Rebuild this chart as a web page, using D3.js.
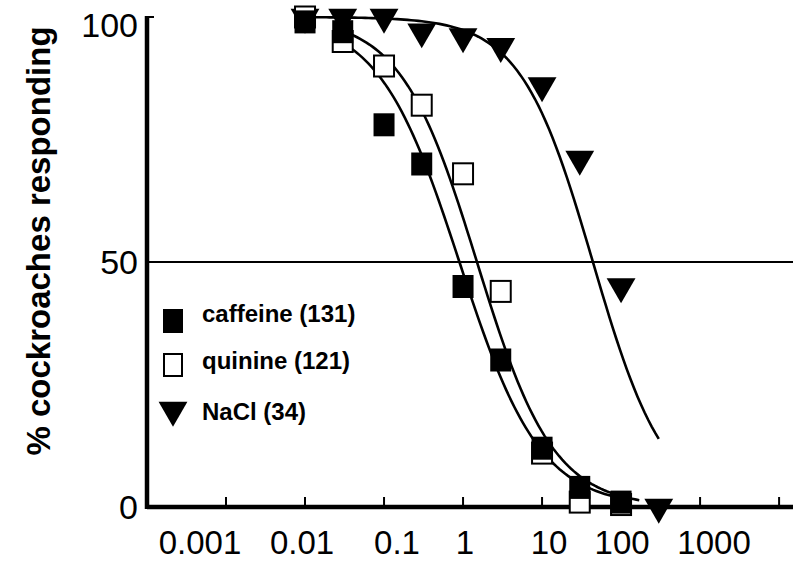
<!DOCTYPE html>
<html>
<head>
<meta charset="utf-8">
<script src="https://cdn.jsdelivr.net/npm/d3@7"></script>
<style>
  body { margin: 0; background: #fff; }
  svg { font-family: Arial, "Liberation Sans", sans-serif; }
</style>
</head>
<body>
<div id="chart"></div>
<script>
// concentrations (log x axis) and % responding
const conc = [0.01, 0.03, 0.1, 0.3, 1, 3, 10, 30, 100, 300];
const caffeine = [99, 97, 78, 70, 45, 30, 12, 4, 1];
const quinine = [100, 95, 90, 82, 68, 44, 11, 1, 0.5];
const nacl = [100, 100, 100, 97, 96, 94, 86, 71, 45, 0];

// fitted dose-response curves
const fitNames = ["caffeine", "quinine", "NaCl"];
const fitEC50 = [0.9, 1.5, 44];
const fitSlope = [0.85, 0.9, 0.95];
const fitFrom = [0.03, 0.03, 0.01];
const fitTo = [110, 170, 300];

const xTicks = [0.001, 0.01, 0.1, 1, 10, 100, 1000, 10000];
const xLabels = ["0.001", "0.01", "0.1", "1", "10", "100", "1000"];
const yTicks = [0, 50, 100];

const legendNames = ["caffeine (131)", "quinine (121)", "NaCl (34)"];

const width = 796, height = 562;

const svg = d3.select("#chart")
    .append("svg")
    .attr("width", width)
    .attr("height", height);

let x = d3.scaleLog()
    .domain([1e-4, 15000])
    .range([147, 793]);

let y = d3.scaleLinear()
    .domain([0, 100])
    .range([507, 17]);

// 50% reference line
svg.append("line")
    .attr("x1", x(1e-4)).attr("x2", x(15000))
    .attr("y1", y(50)).attr("y2", y(50))
    .attr("stroke", "#000")
    .attr("stroke-width", 2);

// fitted curves
const line = d3.line()
    .x(d => x(d[0]))
    .y(d => y(d[1]));

fitNames.forEach((n, i) => {
    const lo = Math.log10(fitFrom[i]), hi = Math.log10(fitTo[i]);
    const pts = d3.range(0, 101).map(k => {
        const c = Math.pow(10, lo + (hi - lo) * k / 100);
        return [c, 100 / (1 + Math.pow(c / fitEC50[i], fitSlope[i]))];
    });
    svg.append("path")
        .datum(pts)
        .attr("fill", "none")
        .attr("stroke", "#000")
        .attr("stroke-width", 2.6)
        .attr("d", line);
});

// axes
svg.append("line")
    .attr("x1", x(1e-4)).attr("x2", x(15000))
    .attr("y1", y(0)).attr("y2", y(0))
    .attr("stroke", "#000").attr("stroke-width", 4.5);

svg.append("line")
    .attr("x1", x(1e-4)).attr("x2", x(1e-4))
    .attr("y1", y(0) + 2).attr("y2", y(100) - 1)
    .attr("stroke", "#000").attr("stroke-width", 4.5);

svg.append("line") // cap tick at 100
    .attr("x1", x(1e-4)).attr("x2", x(1e-4) + 7)
    .attr("y1", y(100)).attr("y2", y(100))
    .attr("stroke", "#000").attr("stroke-width", 2);

svg.selectAll(".xtick")
    .data(xTicks)
    .join("line")
    .attr("class", "xtick")
    .attr("x1", d => x(d)).attr("x2", d => x(d))
    .attr("y1", y(0)).attr("y2", y(0) - 10)
    .attr("stroke", "#000").attr("stroke-width", 2);

// labels in the original sit a little off their ticks
const labelShift = [-26, -3, 13, 2, 7, 1, 14];

svg.selectAll(".xlab")
    .data(xLabels)
    .join("text")
    .attr("class", "xlab")
    .attr("x", (d, i) => x(xTicks[i]) + labelShift[i])
    .attr("y", 554)
    .attr("text-anchor", "middle")
    .attr("font-size", 33)
    .text(d => d);

svg.selectAll(".ylab")
    .data(yTicks)
    .join("text")
    .attr("class", "ylab")
    .attr("x", 138)
    .attr("y", d => y(d) + (d === 100 ? 8 : 0))
    .attr("dy", "0.36em")
    .attr("text-anchor", "end")
    .attr("font-size", 34)
    .text(d => d);

svg.append("text")
    .attr("transform", "translate(50,241) rotate(-90)")
    .attr("text-anchor", "middle")
    .attr("font-size", 33)
    .attr("font-weight", "bold")
    .text("% cockroaches responding");

// markers
const tri = d3.symbol(d3.symbolTriangle, 360);

svg.selectAll(".nacl")
    .data(nacl)
    .join("path")
    .attr("class", "nacl")
    .attr("d", tri)
    .attr("transform", (d, i) => `translate(${x(conc[i])},${y(d)}) rotate(180)`)
    .attr("fill", "#000");

svg.selectAll(".quin")
    .data(quinine)
    .join("rect")
    .attr("class", "quin")
    .attr("x", (d, i) => x(conc[i]) - 10)
    .attr("y", d => y(d) - 10.5)
    .attr("width", 20).attr("height", 21)
    .attr("fill", "#fff")
    .attr("stroke", "#000").attr("stroke-width", 2);

svg.selectAll(".caff")
    .data(caffeine)
    .join("rect")
    .attr("class", "caff")
    .attr("x", (d, i) => x(conc[i]) - 10.5)
    .attr("y", d => y(d) - 11.5)
    .attr("width", 21).attr("height", 23)
    .attr("fill", "#000");

// legend
const legY = [321, 365, 410];
const leg = svg.append("g");
leg.append("rect")
    .attr("x", 163).attr("y", legY[0] - 12)
    .attr("width", 20).attr("height", 24)
    .attr("fill", "#000");
leg.append("rect")
    .attr("x", 164).attr("y", legY[1] - 11)
    .attr("width", 18).attr("height", 22)
    .attr("fill", "#fff").attr("stroke", "#000").attr("stroke-width", 2);
leg.append("path")
    .attr("d", tri)
    .attr("transform", `translate(173,${legY[2]}) rotate(180)`)
    .attr("fill", "#000");
leg.selectAll("text")
    .data(legendNames)
    .join("text")
    .attr("x", 202)
    .attr("y", (d, i) => legY[i] + [1, 4, 10][i])
    .attr("font-size", 24)
    .attr("font-weight", "bold")
    .text(d => d);
</script>
</body>
</html>
